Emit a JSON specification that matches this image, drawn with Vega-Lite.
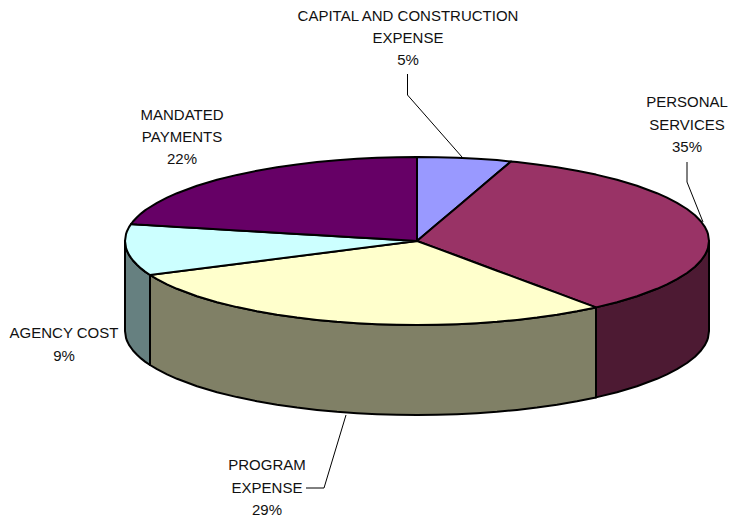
{"$schema":"https://vega.github.io/schema/vega-lite/v6.json","width":729,"height":519,"padding":0,"autosize":{"type":"none"},"background":"white","view":{"stroke":null},
"datasets":{
"slices":[
{"part":"Agency wall","x":125,"y":241,"y2":331},{"part":"Agency wall","x":126,"y":247.9,"y2":337.9},{"part":"Agency wall","x":127,"y":250.8,"y2":340.8},{"part":"Agency wall","x":129,"y":254.9,"y2":344.9},{"part":"Agency wall","x":133,"y":260.5,"y2":350.5},{"part":"Agency wall","x":137,"y":264.8,"y2":354.8},{"part":"Agency wall","x":141,"y":268.4,"y2":358.4},{"part":"Agency wall","x":145,"y":271.6,"y2":361.6},{"part":"Agency wall","x":150,"y":275,"y2":365},
{"part":"Program wall","x":150,"y":275,"y2":365},{"part":"Program wall","x":157,"y":279.2,"y2":369.2},{"part":"Program wall","x":167,"y":284.4,"y2":374.4},{"part":"Program wall","x":177,"y":288.8,"y2":378.8},{"part":"Program wall","x":197,"y":296.2,"y2":386.2},{"part":"Program wall","x":217,"y":302.2,"y2":392.2},{"part":"Program wall","x":237,"y":307.1,"y2":397.1},{"part":"Program wall","x":257,"y":311.3,"y2":401.3},{"part":"Program wall","x":277,"y":314.7,"y2":404.7},{"part":"Program wall","x":297,"y":317.6,"y2":407.6},{"part":"Program wall","x":317,"y":319.9,"y2":409.9},{"part":"Program wall","x":337,"y":321.8,"y2":411.8},{"part":"Program wall","x":357,"y":323.2,"y2":413.2},{"part":"Program wall","x":377,"y":324.2,"y2":414.2},{"part":"Program wall","x":397,"y":324.8,"y2":414.8},{"part":"Program wall","x":417,"y":325,"y2":415},{"part":"Program wall","x":437,"y":324.8,"y2":414.8},{"part":"Program wall","x":457,"y":324.2,"y2":414.2},{"part":"Program wall","x":477,"y":323.2,"y2":413.2},{"part":"Program wall","x":497,"y":321.8,"y2":411.8},{"part":"Program wall","x":517,"y":319.9,"y2":409.9},{"part":"Program wall","x":537,"y":317.6,"y2":407.6},{"part":"Program wall","x":557,"y":314.7,"y2":404.7},{"part":"Program wall","x":577,"y":311.3,"y2":401.3},{"part":"Program wall","x":596,"y":307.4,"y2":397.4},
{"part":"Personal wall","x":596,"y":307.4,"y2":397.4},{"part":"Personal wall","x":617,"y":302.2,"y2":392.2},{"part":"Personal wall","x":637,"y":296.2,"y2":386.2},{"part":"Personal wall","x":657,"y":288.8,"y2":378.8},{"part":"Personal wall","x":667,"y":284.4,"y2":374.4},{"part":"Personal wall","x":677,"y":279.2,"y2":369.2},{"part":"Personal wall","x":687,"y":273,"y2":363},{"part":"Personal wall","x":695,"y":266.7,"y2":356.7},{"part":"Personal wall","x":701,"y":260.5,"y2":350.5},{"part":"Personal wall","x":705,"y":254.9,"y2":344.9},{"part":"Personal wall","x":707,"y":250.8,"y2":340.8},{"part":"Personal wall","x":708,"y":247.9,"y2":337.9},{"part":"Personal wall","x":709,"y":241,"y2":331},
{"part":"Capital","x":417,"y":157,"y2":241},{"part":"Capital","x":437,"y":157.2,"y2":224.1},{"part":"Capital","x":457,"y":157.8,"y2":207.2},{"part":"Capital","x":477,"y":158.8,"y2":190.3},{"part":"Capital","x":497,"y":160.1,"y2":173.3},{"part":"Capital","x":511,"y":161.5,"y2":161.5},
{"part":"Personal","x":417,"y":241,"y2":241},{"part":"Personal","x":437,"y":224.1,"y2":248.4},{"part":"Personal","x":457,"y":207.2,"y2":255.8},{"part":"Personal","x":477,"y":190.3,"y2":263.3},{"part":"Personal","x":497,"y":173.3,"y2":270.7},{"part":"Personal","x":511,"y":161.5,"y2":275.9},{"part":"Personal","x":517,"y":162.1,"y2":278.1},{"part":"Personal","x":537,"y":164.4,"y2":285.5},{"part":"Personal","x":557,"y":167.3,"y2":292.9},{"part":"Personal","x":577,"y":170.7,"y2":300.4},{"part":"Personal","x":596,"y":174.6,"y2":307.4},{"part":"Personal","x":617,"y":179.8,"y2":302.2},{"part":"Personal","x":637,"y":185.8,"y2":296.2},{"part":"Personal","x":657,"y":193.2,"y2":288.8},{"part":"Personal","x":667,"y":197.6,"y2":284.4},{"part":"Personal","x":677,"y":202.8,"y2":279.2},{"part":"Personal","x":687,"y":209,"y2":273},{"part":"Personal","x":695,"y":215.3,"y2":266.7},{"part":"Personal","x":701,"y":221.5,"y2":260.5},{"part":"Personal","x":705,"y":227.1,"y2":254.9},{"part":"Personal","x":707,"y":231.2,"y2":250.8},{"part":"Personal","x":708,"y":234.1,"y2":247.9},{"part":"Personal","x":709,"y":241,"y2":241},
{"part":"Program","x":150,"y":275,"y2":275},{"part":"Program","x":157,"y":274.1,"y2":279.2},{"part":"Program","x":167,"y":272.8,"y2":284.4},{"part":"Program","x":177,"y":271.6,"y2":288.8},{"part":"Program","x":197,"y":269,"y2":296.2},{"part":"Program","x":217,"y":266.5,"y2":302.2},{"part":"Program","x":237,"y":263.9,"y2":307.1},{"part":"Program","x":257,"y":261.4,"y2":311.3},{"part":"Program","x":277,"y":258.8,"y2":314.7},{"part":"Program","x":297,"y":256.3,"y2":317.6},{"part":"Program","x":317,"y":253.7,"y2":319.9},{"part":"Program","x":337,"y":251.2,"y2":321.8},{"part":"Program","x":357,"y":248.6,"y2":323.2},{"part":"Program","x":377,"y":246.1,"y2":324.2},{"part":"Program","x":397,"y":243.5,"y2":324.8},{"part":"Program","x":417,"y":241,"y2":325},{"part":"Program","x":437,"y":248.4,"y2":324.8},{"part":"Program","x":457,"y":255.8,"y2":324.2},{"part":"Program","x":477,"y":263.3,"y2":323.2},{"part":"Program","x":497,"y":270.7,"y2":321.8},{"part":"Program","x":517,"y":278.1,"y2":319.9},{"part":"Program","x":537,"y":285.5,"y2":317.6},{"part":"Program","x":557,"y":292.9,"y2":314.7},{"part":"Program","x":577,"y":300.4,"y2":311.3},{"part":"Program","x":596,"y":307.4,"y2":307.4},
{"part":"Agency","x":125,"y":241,"y2":241},{"part":"Agency","x":126,"y":234.1,"y2":247.9},{"part":"Agency","x":127,"y":231.2,"y2":250.8},{"part":"Agency","x":129,"y":227.1,"y2":254.9},{"part":"Agency","x":131,"y":224.1,"y2":257.9},{"part":"Agency","x":133,"y":224.2,"y2":260.5},{"part":"Agency","x":137,"y":224.6,"y2":264.8},{"part":"Agency","x":141,"y":224.8,"y2":268.4},{"part":"Agency","x":145,"y":225,"y2":271.6},{"part":"Agency","x":150,"y":225.3,"y2":275},{"part":"Agency","x":417,"y":241,"y2":241},
{"part":"Mandated","x":131,"y":224.1,"y2":224.1},{"part":"Mandated","x":133,"y":221.5,"y2":224.2},{"part":"Mandated","x":137,"y":217.2,"y2":224.6},{"part":"Mandated","x":141,"y":213.6,"y2":224.8},{"part":"Mandated","x":145,"y":210.4,"y2":225},{"part":"Mandated","x":147,"y":209,"y2":225.1},{"part":"Mandated","x":157,"y":202.8,"y2":225.7},{"part":"Mandated","x":167,"y":197.6,"y2":226.3},{"part":"Mandated","x":177,"y":193.2,"y2":226.9},{"part":"Mandated","x":197,"y":185.8,"y2":228},{"part":"Mandated","x":217,"y":179.8,"y2":229.2},{"part":"Mandated","x":237,"y":174.9,"y2":230.4},{"part":"Mandated","x":257,"y":170.7,"y2":231.5},{"part":"Mandated","x":277,"y":167.3,"y2":232.7},{"part":"Mandated","x":297,"y":164.4,"y2":233.9},{"part":"Mandated","x":317,"y":162.1,"y2":235.1},{"part":"Mandated","x":337,"y":160.2,"y2":236.3},{"part":"Mandated","x":357,"y":158.8,"y2":237.5},{"part":"Mandated","x":377,"y":157.8,"y2":238.6},{"part":"Mandated","x":397,"y":157.2,"y2":239.8},{"part":"Mandated","x":417,"y":157,"y2":241}
],
"leaders":[
{"leader":"Capital","i":1,"x":407.5,"y":74},{"leader":"Capital","i":2,"x":407.5,"y":95},{"leader":"Capital","i":3,"x":462,"y":157},
{"leader":"Personal","i":1,"x":687,"y":162},{"leader":"Personal","i":2,"x":687,"y":182},{"leader":"Personal","i":3,"x":703,"y":222},
{"leader":"Program","i":1,"x":346,"y":415},{"leader":"Program","i":2,"x":324,"y":488},{"leader":"Program","i":3,"x":306,"y":488}
],
"labels":[
{"t":"CAPITAL AND CONSTRUCTION","x":408,"y":21},{"t":"EXPENSE","x":408,"y":43},{"t":"5%","x":408,"y":65},
{"t":"PERSONAL","x":687,"y":107},{"t":"SERVICES","x":687,"y":130},{"t":"35%","x":687,"y":152},
{"t":"MANDATED","x":182,"y":120},{"t":"PAYMENTS","x":182,"y":142},{"t":"22%","x":182,"y":164},
{"t":"AGENCY COST","x":64,"y":338},{"t":"9%","x":64,"y":361},
{"t":"PROGRAM","x":267,"y":470},{"t":"EXPENSE","x":267,"y":493},{"t":"29%","x":267,"y":515}
]},
"layer":[
{"data":{"name":"slices"},"mark":{"type":"area","stroke":"black","strokeWidth":2,"strokeJoin":"round","interpolate":"linear"},
"encoding":{"x":{"field":"x","type":"quantitative","scale":{"domain":[0,729],"nice":false,"zero":false},"axis":null},"y":{"field":"y","type":"quantitative","scale":{"domain":[519,0],"nice":false,"zero":false},"axis":null},"y2":{"field":"y2"},
"color":{"field":"part","type":"nominal","legend":null,"sort":["Agency wall","Program wall","Personal wall","Capital","Personal","Program","Agency","Mandated"],"scale":{"domain":["Agency wall","Program wall","Personal wall","Capital","Personal","Program","Agency","Mandated"],"range":["#668080","#808066","#4d1a33","#9999ff","#993366","#ffffcc","#ccffff","#660066"]}}}},
{"data":{"name":"leaders"},"mark":{"type":"line","stroke":"black","strokeWidth":1},
"encoding":{"x":{"field":"x","type":"quantitative","scale":{"domain":[0,729],"nice":false,"zero":false},"axis":null},"y":{"field":"y","type":"quantitative","scale":{"domain":[519,0],"nice":false,"zero":false},"axis":null},"detail":{"field":"leader"},"order":{"field":"i"}}},
{"data":{"name":"labels"},"mark":{"type":"text","font":"Liberation Sans","fontSize":15,"align":"center","baseline":"alphabetic","fill":"#111111"},
"encoding":{"x":{"field":"x","type":"quantitative","scale":{"domain":[0,729],"nice":false,"zero":false},"axis":null},"y":{"field":"y","type":"quantitative","scale":{"domain":[519,0],"nice":false,"zero":false},"axis":null},"text":{"field":"t"}}}
]}
